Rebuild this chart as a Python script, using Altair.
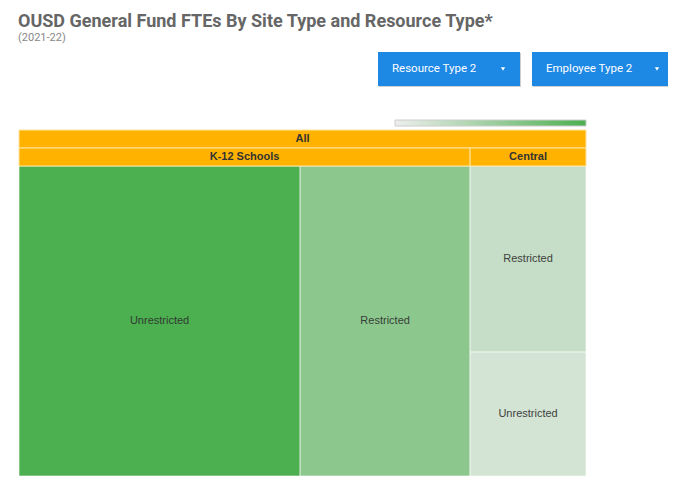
import altair as alt
import pandas as pd

# ---- data ----
TITLE = "OUSD General Fund FTEs By Site Type and Resource Type*"
SUBTITLE = "(2021-22)"
ROOT = "All"
site_types = ["K-12 Schools", "K-12 Schools", "Central", "Central"]
resource_types = ["Unrestricted", "Restricted", "Restricted", "Unrestricted"]
fte = [1487, 899, 368, 245]
buttons = ["Resource Type 2", "Employee Type 2"]

# plot area (treemap body) size in px
W, H = 567, 310

# ---- slice/dice layout computed from the values ----
df = pd.DataFrame({"site": site_types, "resource": resource_types, "fte": fte})
total = df["fte"].sum()
group_tot = df.groupby("site", sort=False)["fte"].sum().sort_values(ascending=False)

cells, heads = [], []
gx = 0.0
for site, gsum in group_tot.items():
    gw = gsum / total
    heads.append({"label": site, "x0": gx, "x1": gx + gw, "xm": gx + gw / 2})
    sub = df[df["site"] == site].sort_values("fte", ascending=False)
    horizontal = gw * W >= H
    off = 0.0
    for _, r in sub.iterrows():
        f = r["fte"] / gsum
        if horizontal:
            x0, x1, y0, y1 = gx + off * gw, gx + (off + f) * gw, 0.0, 1.0
        else:
            x0, x1, y0, y1 = gx, gx + gw, off, off + f
        cells.append({"site": site, "resource": r["resource"], "fte": r["fte"],
                      "x0": x0, "x1": x1, "y0": y0, "y1": y1,
                      "xm": (x0 + x1) / 2, "ym": (y0 + y1) / 2})
        off += f
    gx += gw

cells = pd.DataFrame(cells)
heads = pd.DataFrame(heads)
root = pd.DataFrame([{"label": ROOT, "x0": 0.0, "x1": 1.0, "xm": 0.5}])
one = pd.DataFrame({"k": [0]})

xs = alt.Scale(domain=[0, 1], nice=False, zero=False)
ys = alt.Scale(domain=[0, 1], nice=False, zero=False, reverse=True)
cs = alt.Scale(domain=[0, int(df["fte"].max())], range=["#eeeeee", "#4caf50"], interpolate="rgb")

cell_rects = alt.Chart(cells).mark_rect(stroke="#ffffff", strokeWidth=1, strokeOpacity=0.6).encode(
    x=alt.X("x0:Q", scale=xs, axis=None),
    x2="x1:Q",
    y=alt.Y("y0:Q", scale=ys, axis=None),
    y2="y1:Q",
    color=alt.Color("fte:Q", scale=cs, legend=alt.Legend(
        orient="none", legendX=376, legendY=-46, direction="horizontal",
        gradientLength=191, gradientThickness=6, labelOpacity=0, labelFontSize=1, title="",
        gradientStrokeColor="#cccccc", gradientStrokeWidth=1, padding=0)),
)
cell_text = alt.Chart(cells).mark_text(font="Liberation Sans", fontSize=11, color="#2f2f2f",
                                       opacity=0.9, baseline="middle").encode(
    x=alt.X("xm:Q", scale=xs, axis=None),
    y=alt.Y("ym:Q", scale=ys, axis=None),
    text="resource:N",
)

hdr_style = dict(fill="#ffb300", stroke="#ffe3a0", strokeWidth=1)
root_rect = alt.Chart(root).mark_rect(**hdr_style).encode(
    x=alt.X("x0:Q", scale=xs, axis=None), x2="x1:Q", y=alt.value(-36), y2=alt.value(-18))
root_text = alt.Chart(root).mark_text(font="Liberation Sans", fontSize=11, fontWeight="bold",
                                      color="#333333", baseline="middle").encode(
    x=alt.X("xm:Q", scale=xs, axis=None), y=alt.value(-27), text="label:N")
site_rect = alt.Chart(heads).mark_rect(**hdr_style).encode(
    x=alt.X("x0:Q", scale=xs, axis=None), x2="x1:Q", y=alt.value(-18), y2=alt.value(0))
site_text = alt.Chart(heads).mark_text(font="Liberation Sans", fontSize=11, fontWeight="bold",
                                       color="#333333", baseline="middle").encode(
    x=alt.X("xm:Q", scale=xs, axis=None), y=alt.value(-9), text="label:N")

title = alt.Chart(one).mark_text(align="left", baseline="alphabetic", font="Roboto",
                                 fontSize=18, fontWeight="bold", color="#666666").encode(
    x=alt.value(-1), y=alt.value(-139), text=alt.value(TITLE))
subtitle = alt.Chart(one).mark_text(align="left", baseline="alphabetic", font="Roboto",
                                    fontSize=11, color="#888888").encode(
    x=alt.value(-1), y=alt.value(-125), text=alt.value(SUBTITLE))

layers = [cell_rects, cell_text, root_rect, site_rect, root_text, site_text, title, subtitle]

btn_left = [359, 513]
for name, bx in zip(buttons, btn_left):
    layers.append(alt.Chart(one).mark_rect(color="#9e9e9e", opacity=0.5).encode(
        x=alt.value(bx + 1), x2=alt.value(bx + 143), y=alt.value(-113), y2=alt.value(-79)))
    layers.append(alt.Chart(one).mark_rect(color="#1e88e5").encode(
        x=alt.value(bx), x2=alt.value(bx + 142), y=alt.value(-114), y2=alt.value(-80)))
    layers.append(alt.Chart(one).mark_text(align="left", baseline="middle", font="Roboto",
                                           fontSize=11.5, color="#ffffff").encode(
        x=alt.value(bx + 14), y=alt.value(-97), text=alt.value(name)))
    layers.append(alt.Chart(one).mark_point(shape="triangle-down", filled=True, size=18,
                                            color="#ffffff", opacity=1).encode(
        x=alt.value(bx + 125), y=alt.value(-97)))

chart = alt.layer(*layers).properties(
    width=W, height=H,
    autosize=alt.AutoSizeParams(type="none"),
    padding={"left": 11, "top": 158, "right": 82, "bottom": 5},
    background="#ffffff",
).configure_view(strokeWidth=0)

chart.save("out.html", embed_options={"renderer": "svg", "actions": False})
